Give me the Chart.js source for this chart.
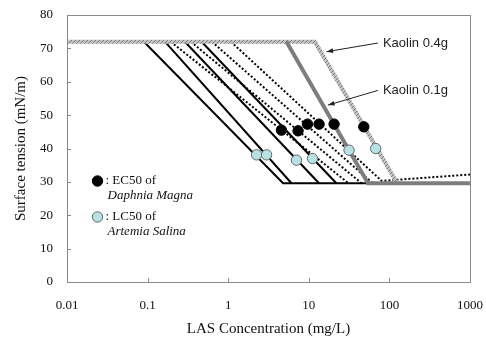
<!DOCTYPE html>
<html>
<head>
<meta charset="utf-8">
<script src="https://cdn.jsdelivr.net/npm/chart.js@4"></script>
<style>
  html, body { margin: 0; padding: 0; background: #fff; }
  #wrap { width: 486px; height: 338px; }
</style>
</head>
<body>
<div id="wrap"><canvas id="chart"></canvas></div>
<script>
// --- données ---
const xTickValues = [0.01, 0.1, 1, 10, 100, 1000];
const xTickLabels = ['0.01', '0.1', '1', '10', '100', '1000'];
const yTickValues = [0, 10, 20, 30, 40, 50, 60, 70, 80];

const plateau = 72;     // tension de surface initiale
const floorLevel = 29.6; // palier bas

// droites pleines (début sur le plateau, fin sur le palier)
const solidStartX = [0.090, 0.164, 0.290, 0.468];
const solidEndX = [4.80, 6.10, 13.4, 22.0];

// droites pointillées
const dottedStartX = [0.194, 0.344, 0.627, 1.08];
const dottedEndX = [31, 45, 62, 80];
const dottedEndY = [29.6, 29.6, 29.6, 30.3];
const dottedTailX = [1000];
const dottedTailY = [32.2];

// Kaolin 0.1g (gris épais) et Kaolin 0.4g (hachuré)
const kaolin01X = [5.28, 54.3, 1000];
const kaolin01Y = [72, 29.6, 29.6];
const kaolin04X = [0.01, 11.9, 122];
const kaolin04Y = [72, 72, 30];

// EC50 Daphnia Magna (noir) et LC50 Artemia Salina (bleu clair)
const ec50X = [4.58, 7.36, 9.63, 13.4, 20.6, 48.1];
const ec50Y = [45.5, 45.3, 47.3, 47.3, 47.3, 46.5];
const lc50X = [2.25, 2.99, 7.03, 11.1, 31.6, 67.6];
const lc50Y = [38.1, 38.1, 36.5, 37.0, 39.5, 40.0];

// annotations (coordonnées en unités des axes)
const noteLabels = ['Kaolin 0.4g', 'Kaolin 0.1g'];
const noteTailX = [72, 72];
const noteTailY = [71.6, 57.4];
const noteTipX = [16.6, 17.3];
const noteTipY = [69.0, 53.0];

const pts = (xs, ys) => xs.map((x, i) => ({ x, y: ys[i] }));

// motif hachuré pour la courbe Kaolin 0.4g
function hatchPattern() {
    const c = document.createElement('canvas');
    c.width = 4; c.height = 4;
    const g = c.getContext('2d');
    g.fillStyle = '#c4c4c4';
    g.fillRect(0, 0, 4, 4);
    g.strokeStyle = '#7a7a7a';
    g.lineWidth = 1;
    g.beginPath();
    g.moveTo(0, 4); g.lineTo(4, 0);
    g.moveTo(-1, 1); g.lineTo(1, -1);
    g.moveTo(3, 5); g.lineTo(5, 3);
    g.stroke();
    return g.createPattern(c, 'repeat');
}

const datasets = [];

datasets.push({
    label: 'EC50 Daphnia Magna',
    data: pts(ec50X, ec50Y),
    showLine: false,
    pointRadius: 5.2,
    pointBackgroundColor: '#000',
    pointBorderColor: '#000',
    pointBorderWidth: 1,
    order: 0
});
datasets.push({
    label: 'LC50 Artemia Salina',
    data: pts(lc50X, lc50Y),
    showLine: false,
    pointRadius: 5.2,
    pointBackgroundColor: '#b9e0e3',
    pointBorderColor: '#5a6a6c',
    pointBorderWidth: 1,
    order: 0
});

solidStartX.forEach((x0, i) => {
    const xs = [x0, solidEndX[i]];
    const ys = [plateau, floorLevel];
    if (i === 0) { xs.push(kaolin01X[1]); ys.push(floorLevel); }
    datasets.push({
        label: 'solid ' + i,
        data: pts(xs, ys),
        showLine: true,
        borderColor: '#000',
        borderWidth: 2,
        pointRadius: 0,
        order: 2
    });
});

dottedStartX.forEach((x0, i) => {
    const xs = [x0, dottedEndX[i]];
    const ys = [plateau, dottedEndY[i]];
    if (i === dottedStartX.length - 1) { xs.push(...dottedTailX); ys.push(...dottedTailY); }
    datasets.push({
        label: 'dotted ' + i,
        data: pts(xs, ys),
        showLine: true,
        borderColor: '#000',
        borderWidth: 2,
        borderDash: [2, 2],
        pointRadius: 0,
        order: 2
    });
});

datasets.push({
    label: 'Kaolin 0.1g',
    data: pts(kaolin01X, kaolin01Y),
    showLine: true,
    borderColor: '#7d7d7d',
    borderWidth: 4,
    pointRadius: 0,
    order: 1
});
datasets.push({
    label: 'Kaolin 0.4g',
    data: pts(kaolin04X, kaolin04Y),
    showLine: true,
    borderColor: hatchPattern(),
    borderWidth: 4,
    pointRadius: 0,
    order: 1
});

// cadre, graduations intérieures, annotations et légende
const decorPlugin = {
    id: 'decor',
    afterDatasetsDraw(chart) {
        const { ctx, chartArea: a, scales: { x, y } } = chart;
        ctx.save();
        ctx.strokeStyle = '#8a8a8a';
        ctx.lineWidth = 1;
        ctx.strokeRect(a.left + 0.5, a.top + 0.5, a.right - a.left, a.bottom - a.top);
        ctx.beginPath();
        yTickValues.forEach(v => {
            const py = Math.round(y.getPixelForValue(v)) + 0.5;
            ctx.moveTo(a.left, py); ctx.lineTo(a.left + 4, py);
        });
        xTickValues.forEach(v => {
            const px = Math.round(x.getPixelForValue(v)) + 0.5;
            ctx.moveTo(px, a.bottom); ctx.lineTo(px, a.bottom - 4);
        });
        ctx.stroke();

        // flèches Kaolin
        ctx.strokeStyle = '#222';
        ctx.fillStyle = '#222';
        ctx.lineWidth = 1;
        noteLabels.forEach((t, i) => {
            const x1 = x.getPixelForValue(noteTailX[i]), y1 = y.getPixelForValue(noteTailY[i]);
            const x2 = x.getPixelForValue(noteTipX[i]), y2 = y.getPixelForValue(noteTipY[i]);
            ctx.beginPath();
            ctx.moveTo(x1, y1); ctx.lineTo(x2, y2);
            ctx.stroke();
            const ang = Math.atan2(y2 - y1, x2 - x1);
            ctx.beginPath();
            ctx.moveTo(x2, y2);
            ctx.lineTo(x2 - 7 * Math.cos(ang - 0.35), y2 - 7 * Math.sin(ang - 0.35));
            ctx.lineTo(x2 - 7 * Math.cos(ang + 0.35), y2 - 7 * Math.sin(ang + 0.35));
            ctx.closePath();
            ctx.fill();
            ctx.font = '13px "Liberation Sans", Arial, sans-serif';
            ctx.textAlign = 'left';
            ctx.textBaseline = 'middle';
            ctx.fillText(t, x1 + 5, y1);
        });

        // légende
        const lx = a.left + 30.5;
        const rows = [
            { top: a.top + 166, fill: '#000', stroke: '#000', l1: ': EC50 of', l2: 'Daphnia Magna' },
            { top: a.top + 202, fill: '#b9e0e3', stroke: '#5a6a6c', l1: ': LC50 of', l2: 'Artemia Salina' }
        ];
        rows.forEach(r => {
            ctx.beginPath();
            ctx.arc(lx, r.top, 5.2, 0, Math.PI * 2);
            ctx.fillStyle = r.fill;
            ctx.fill();
            ctx.strokeStyle = r.stroke;
            ctx.stroke();
            ctx.fillStyle = '#111';
            ctx.textBaseline = 'middle';
            ctx.font = '13px "Liberation Serif", "Times New Roman", serif';
            ctx.fillText(r.l1, lx + 8, r.top);
            ctx.font = 'italic 13px "Liberation Serif", "Times New Roman", serif';
            ctx.fillText(r.l2, lx + 10, r.top + 15);
        });
        ctx.restore();
    }
};

new Chart(document.getElementById('chart'), {
    type: 'scatter',
    data: { datasets },
    options: {
        responsive: true,
        maintainAspectRatio: false,
        animation: false,
        layout: { padding: { top: 15, right: 16, left: 0, bottom: 0 } },
        plugins: {
            legend: { display: false },
            tooltip: { enabled: false }
        },
        scales: {
            x: {
                type: 'logarithmic',
                min: 0.01,
                max: 1000,
                afterBuildTicks: s => { s.ticks = xTickValues.map(v => ({ value: v })); },
                afterFit: s => { s.height = 56; s.paddingLeft = 0; s.paddingRight = 0; },
                grid: { display: false, drawTicks: false },
                border: { display: false },
                ticks: {
                    padding: 16,
                    maxRotation: 0,
                    autoSkip: false,
                    color: '#111',
                    font: { family: '"Liberation Serif", "Times New Roman", serif', size: 13 },
                    callback: v => xTickLabels[xTickValues.indexOf(v)] ?? ''
                },
                title: {
                    display: true,
                    text: 'LAS Concentration (mg/L)',
                    color: '#111',
                    padding: { top: 0, bottom: 0 },
                    font: { family: '"Liberation Serif", "Times New Roman", serif', size: 15 }
                }
            },
            y: {
                min: 0,
                max: 80,
                afterBuildTicks: s => { s.ticks = yTickValues.map(v => ({ value: v })); },
                afterFit: s => { s.width = 67; s.paddingTop = 0; s.paddingBottom = 0; },
                grid: { display: false, drawTicks: false },
                border: { display: false },
                ticks: {
                    padding: 14,
                    color: '#111',
                    font: { family: '"Liberation Serif", "Times New Roman", serif', size: 13 }
                },
                title: {
                    display: true,
                    text: 'Surface tension (mN/m)',
                    color: '#111',
                    padding: { top: 12, bottom: 0 },
                    font: { family: '"Liberation Serif", "Times New Roman", serif', size: 15 }
                }
            }
        }
    },
    plugins: [decorPlugin]
});
</script>
</body>
</html>
